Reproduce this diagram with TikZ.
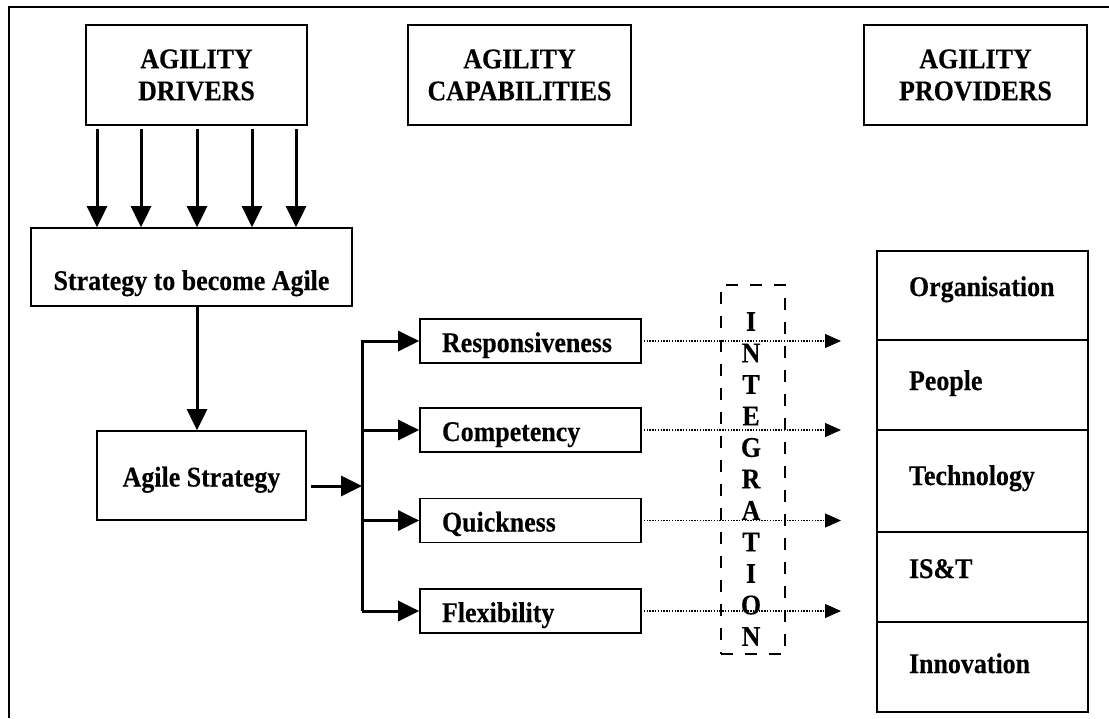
\documentclass[tikz,border=0pt]{standalone}
\usepackage{fontspec}
\setmainfont{Liberation Serif}[FakeStretch=0.91,FakeBold=0.25]
\usetikzlibrary{arrows.meta}
\begin{document}
\begin{tikzpicture}[x=1pt,y=-1pt,
  every node/.style={font=\bfseries\fontsize{28.5}{32}\selectfont},
  box/.style={draw,line width=1.7pt,inner sep=0pt,align=center},
  capbox/.style={draw,line width=1.7pt,minimum width=221pt,minimum height=44pt,
    text width=177pt,inner xsep=22pt,inner ysep=0pt,align=left,
    text height=26pt,text depth=4pt},
  provbox/.style={draw,line width=1.9pt,minimum width=211pt,
    text width=147pt,inner xsep=32pt,inner ysep=0pt,align=left},
  bigarrow/.style={line width=3pt,-{Triangle[length=21pt,width=20pt]}},
  busline/.style={line width=3pt},
  dotarrow/.style={line width=1.1pt,dash pattern=on 1.4pt off 1.4pt,
    -{Triangle[length=16pt,width=14pt]}},
  dashbox/.style={draw,line width=2.8pt,dash pattern=on 12pt off 12pt,
    minimum width=64pt,minimum height=369pt,inner sep=0pt}
]
\useasboundingbox (0,0) rectangle (1109,718);

% outer frame (left and top edges)
\draw[line width=2pt] (9,718) -- (9,6.5) -- (1109,6.5);

% column headings
\node[box,minimum width=221pt,minimum height=100pt] (drivers) at (196.5,75) {AGILITY\\DRIVERS};
\node[box,minimum width=223pt,minimum height=100pt] (capab) at (519.5,75) {AGILITY\\CAPABILITIES};
\node[box,minimum width=223pt,minimum height=100pt] (provid) at (975.5,75) {AGILITY\\PROVIDERS};

% strategy boxes
\node[box,minimum width=321pt,minimum height=78pt,text height=50pt,text depth=4pt]
  (become) at (191.5,267) {Strategy to become Agile};
\node[box,minimum width=209pt,minimum height=89pt,text height=26pt,text depth=4pt]
  (agile) at (201.5,475.5) {Agile Strategy};

% drivers feeding the strategy
\foreach \x in {97,141,197,252,296}
  \draw[bigarrow,shorten <=3pt] (\x,0 |- drivers.south) -- (\x,0 |- become.north);
\draw[bigarrow] (197,0 |- become.south) -- (197,0 |- agile.north);

% capabilities
\node[capbox] (resp)  at (530.5,341)   {Responsiveness};
\node[capbox] (comp)  at (530.5,430)   {Competency};
\node[capbox] (quick) at (530.5,520.5) {Quickness};
\node[capbox] (flex)  at (530.5,611)   {Flexibility};

% branching bus
\coordinate (bus) at (362,486);
\coordinate (bustop) at (362,340);
\coordinate (busbot) at (362,611);
\draw[busline] (bustop) -- (busbot);
\draw[bigarrow,shorten <=4pt] (agile.east |- bus) -- (bus);
\foreach \n in {resp,comp,quick,flex}
  \draw[bigarrow] (bus |- \n.west) -- (\n.west);

% integration band
\node[dashbox] (integ) at (753,469.5) {};
\node[align=center,inner sep=0pt,font=\bfseries\fontsize{28.5}{31.5}\selectfont]
  (integtext) at (751,479) {I\\N\\T\\E\\G\\R\\A\\T\\I\\O\\N};

% dotted links towards the providers
\foreach \n/\y in {resp/341,comp/430,quick/520.5,flex/611}{
  \coordinate (\n tip) at (841,\y);
  \draw[dotarrow,shorten <=2pt] (\n.east) -- (\n tip);
}

% providers stack
\node[provbox,minimum height=89pt,text height=15pt,text depth=14pt] (org)  at (982.5,295.5) {Organisation};
\node[provbox,minimum height=90pt,text height=20pt,text depth=10pt] (peop) at (982.5,385)   {People};
\node[provbox,minimum height=102pt,text height=19pt,text depth=11pt] (tech) at (982.5,481)  {Technology};
\node[provbox,minimum height=90pt,text height=16pt,text depth=14pt] (ist)  at (982.5,577)   {IS\&T};
\node[provbox,minimum height=90pt,text height=21pt,text depth=9pt]  (innov) at (982.5,667)  {Innovation};
\end{tikzpicture}
\end{document}
